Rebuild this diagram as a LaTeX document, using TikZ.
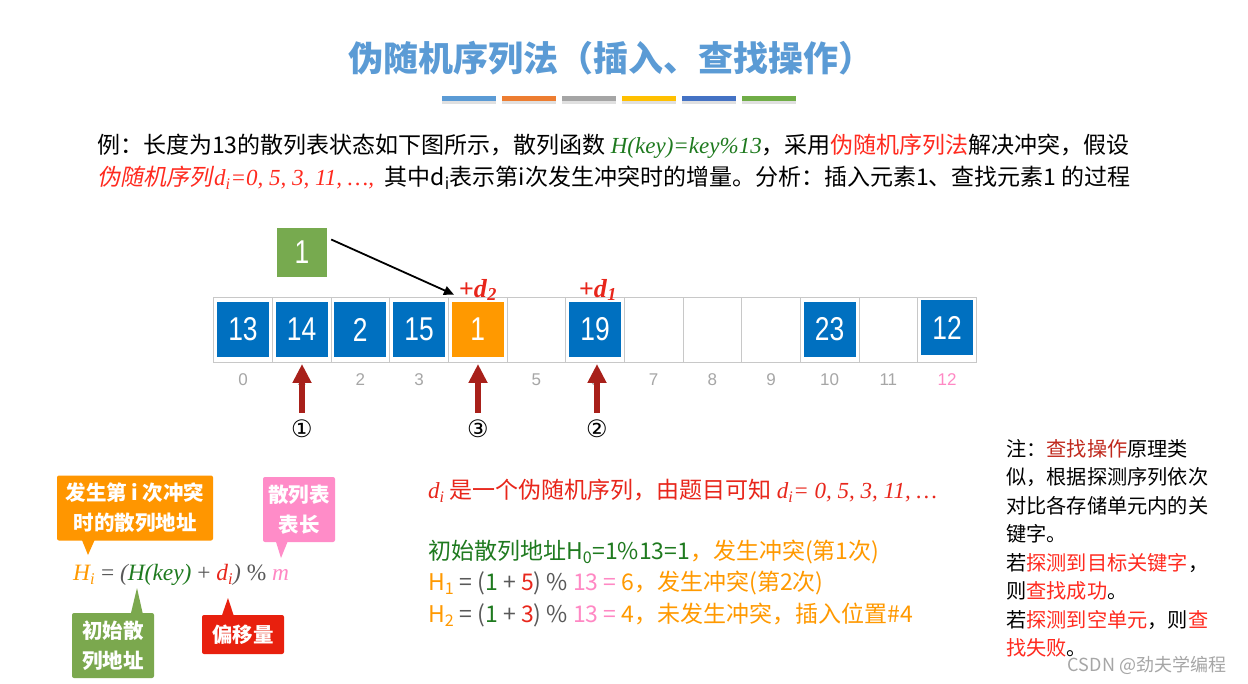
\documentclass[tikz,border=0pt]{standalone}
\usepackage{fontspec}
\setmainfont{Noto Sans CJK SC}
\newfontfamily\tnr{Liberation Serif}
\newfontfamily\arial{Liberation Sans}
\newfontfamily\narrowsans[FakeStretch=0.8]{Liberation Sans}
\newfontfamily\dejavu{DejaVu Sans}
\newfontfamily\cjkslant[FakeSlant=0.2]{Noto Sans CJK SC}
\usetikzlibrary{arrows.meta,calc}
\definecolor{titleblue}{HTML}{5B9BD5}
\definecolor{barA}{HTML}{5B9BD5}
\definecolor{barB}{HTML}{ED7D31}
\definecolor{barC}{HTML}{A5A5A5}
\definecolor{barD}{HTML}{FFC000}
\definecolor{barE}{HTML}{4472C4}
\definecolor{barF}{HTML}{70AD47}
\definecolor{redT}{HTML}{E8261B}
\definecolor{brightRed}{HTML}{FF2A1F}
\definecolor{greenT}{HTML}{1F7A1F}
\definecolor{orangeT}{HTML}{FF9900}
\definecolor{pinkT}{HTML}{FF88C4}
\definecolor{grayT}{HTML}{595959}
\definecolor{idxGray}{HTML}{A6A6A6}
\definecolor{boxBlue}{HTML}{0070C0}
\definecolor{boxOrange}{HTML}{FF9900}
\definecolor{boxGreen}{HTML}{77AA4F}
\definecolor{cellLine}{HTML}{C8C8C8}
\definecolor{darkArrow}{HTML}{A8201A}
\definecolor{calloutOrange}{HTML}{FF9600}
\definecolor{calloutPink}{HTML}{FF8CC8}
\definecolor{calloutGreen}{HTML}{7BA84E}
\definecolor{calloutRed}{HTML}{E8200E}
\definecolor{noteRed}{HTML}{C0281C}
\begin{document}
\begin{tikzpicture}[x=1pt,y=-1pt,
  colorbar/.style={minimum width=54, minimum height=5, inner sep=0pt, draw=none},
  cellbox/.style={draw=cellLine, line width=0.8pt, minimum width=58.667, minimum height=65, inner sep=0pt},
  valbox/.style={fill=boxBlue, text=white, minimum width=52, minimum height=55, inner sep=0pt, font=\narrowsans\fontsize{33}{33}\selectfont},
  idxlabel/.style={text=idxGray, font=\arial\fontsize{17}{17}\selectfont, inner sep=0pt},
  redup/.style={draw=darkArrow, line width=5.3pt, -{Triangle[length=19pt,width=18pt]}},
  circnum/.style={font=\dejavu\fontsize{24}{24}\selectfont, inner sep=0pt},
  dlabel/.style={text=redT, font=\tnr\bfseries\fontsize{26}{26}\selectfont, inner sep=0pt},
  callout/.style={rounded corners=2pt, text=white, align=center, inner sep=0pt, font=\bfseries\fontsize{20.5}{30}\selectfont},
  bodytext/.style={anchor=west, inner sep=0pt, font=\fontsize{23}{23}\selectfont},
  midtext/.style={anchor=west, inner sep=0pt, font=\fontsize{23}{23}\selectfont},
]
\useasboundingbox (0,0) rectangle (1248,684);
\fill[white] (0,0) rectangle (1248,684);

% title
\node[text=titleblue, font=\bfseries\fontsize{35}{35}\selectfont, inner sep=0pt] (title) at (611,58) {伪随机序列法（插入、查找操作）};

% colour bars
\foreach \c [count=\k from 0] in {barA,barB,barC,barD,barE,barF}{
  \fill[black!12] ({442+\k*60},98.5) rectangle ({496+\k*60},104);
  \node[colorbar, fill=\c] (bar\k) at ({469+\k*60},98.5) {};
}

% example text
\node[bodytext] (ex1) at (97,146) {例：长度为13的散列表状态如下图所示，散列函数 {\color{greenT}\tnr\itshape H(key)=key\%13}，采用{\color{brightRed}伪随机序列法}解决冲突，假设};
\node[bodytext] (ex2) at (97,178) {{\color{brightRed}\cjkslant 伪随机序列}\kern2pt{\color{brightRed}\tnr\itshape d\textsubscript{i}=0, 5, 3, 11, …,}\ \ 其中d\textsubscript{i}表示第i次发生冲突时的增量。分析：插入元素1、查找元素1 的过程};

% array cells
\foreach \i in {0,...,12}{
  \node[cellbox] (cell\i) at ({243+58.667*\i},329.5) {};
}
\node[valbox] (v0) at (cell0) {13};
\node[valbox] (v1) at (cell1) {14};
\node[valbox] (v2) at (cell2) {2};
\node[valbox] (v3) at (cell3) {15};
\node[valbox, fill=boxOrange] (v4) at (cell4) {1};
\node[valbox] (v6) at (cell6) {19};
\node[valbox] (v10) at (cell10) {23};
\node[valbox] (v12) at ($(cell12)+(0,-1.5)$) {12};

% index labels
\foreach \i in {0,...,11}{
  \node[idxlabel] (idx\i) at ({243+58.667*\i},380) {\i};
}
\node[idxlabel, text=pinkT] (idx12) at ({243+58.667*12},380) {12};

% green element box and arrow
\node[fill=boxGreen, text=white, minimum width=50, minimum height=49, inner sep=0pt, font=\narrowsans\fontsize{33}{33}\selectfont] (newel) at (302,252.5) {1};
\coordinate (arrStart) at ($(newel.east)+(4,-13)$);
\coordinate (arrEnd) at ($(cell4.north west)+(6,-2)$);
\draw[black, line width=1.8pt, -{Triangle[length=10pt,width=9pt]}] (arrStart) -- (arrEnd);

% +d labels
\node[dlabel] (d2) at (478,290) {+\textit{d}\textsubscript{\textit{2}}};
\node[dlabel] (d1) at (598,290) {+\textit{d}\textsubscript{\textit{1}}};

% red probe arrows
\coordinate (p1s) at (302,413); \coordinate (p1e) at (302,364);
\coordinate (p3s) at (478,413); \coordinate (p3e) at (478,364);
\coordinate (p2s) at (597,413); \coordinate (p2e) at (597,364);
\draw[redup] (p1s) -- (p1e);
\draw[redup] (p3s) -- (p3e);
\draw[redup] (p2s) -- (p2e);
\node[circnum] (c1) at (302,429) {①};
\node[circnum] (c3) at (478,429) {③};
\node[circnum] (c2) at (597,429) {②};

% formula
\node[anchor=west, inner sep=0pt, font=\tnr\itshape\fontsize{23.4}{23.4}\selectfont] (formula) at (73,575)
 {{\color{orangeT}H\textsubscript{i}} {\color{grayT}\upshape=} {\color{grayT}(}{\color{greenT}H(key)} {\color{grayT}\upshape+} {\color{redT}d\textsubscript{i}}{\color{grayT})} {\color{grayT}\upshape\%} {\color{pinkT}m}};

% callouts
\node[callout, fill=calloutOrange, minimum width=156, minimum height=65] (cHi) at (135,508) {发生第 i 次冲突\\时的散列地址};
\coordinate (tHi) at (88,555);
\fill[calloutOrange] ($(cHi.south west)+(25,-1)$) -- ($(cHi.south west)+(38,-1)$) -- (tHi) -- cycle;

\node[callout, fill=calloutPink, minimum width=72, minimum height=65] (cM) at (299,509.5) {散列表\\表长};
\coordinate (tM) at (281,558);
\fill[calloutPink] ($(cM.south west)+(13,-1)$) -- ($(cM.south west)+(25,-1)$) -- (tM) -- cycle;

\node[callout, fill=calloutGreen, minimum width=82, minimum height=65] (cInit) at (113,645.5) {初始散\\列地址};
\coordinate (tInit) at (137,588);
\fill[calloutGreen] ($(cInit.north west)+(59,1)$) -- ($(cInit.north west)+(71,1)$) -- (tInit) -- cycle;

\node[callout, fill=calloutRed, minimum width=82, minimum height=39] (cOff) at (243,634.5) {偏移量};
\coordinate (tOff) at (228,598);
\fill[calloutRed] ($(cOff.north west)+(20,1)$) -- ($(cOff.north west)+(32,1)$) -- (tOff) -- cycle;

% middle explanation
\node[midtext, text=redT] (mA) at (428,491) {{\tnr\itshape d\textsubscript{i}} 是一个伪随机序列，由题目可知 {\tnr\itshape d\textsubscript{i}= 0, 5, 3, 11, …}};
\node[midtext] (mB) at (428,552) {{\color{greenT}初始散列地址H\textsubscript{0}=1\%13=1}{\color{orangeT}，发生冲突(第1次)}};
\node[midtext] (mC) at (428,583) {{\color{orangeT}H\textsubscript{1}} {\color{grayT}= (}{\color{greenT}1} {\color{grayT}+} {\color{redT}5}{\color{grayT}) \%} {\color{pinkT}13 =} {\color{orangeT}6，发生冲突(第2次)}};
\node[midtext] (mD) at (428,615) {{\color{orangeT}H\textsubscript{2}} {\color{grayT}= (}{\color{greenT}1} {\color{grayT}+} {\color{redT}3}{\color{grayT}) \%} {\color{pinkT}13 =} {\color{orangeT}4，未发生冲突，插入位置\#4}};

% note
\node[anchor=north west, inner sep=0pt, align=left, font=\fontsize{20.2}{28.5}\selectfont] (note) at (1006,439)
 {注：{\color{noteRed}查找操作}原理类\\似，根据探测序列依次\\对比各存储单元内的关\\键字。\\若{\color{brightRed}探测到目标关键字}，\\则{\color{brightRed}查找成功}。\\若{\color{brightRed}探测到空单元}，则{\color{brightRed}查}\\{\color{brightRed}找失败}。};

% watermark
\node[text=black!35, inner sep=0pt, font=\fontsize{18}{18}\selectfont] (csdn) at (1147,665) {CSDN @劲夫学编程};
\end{tikzpicture}
\end{document}
